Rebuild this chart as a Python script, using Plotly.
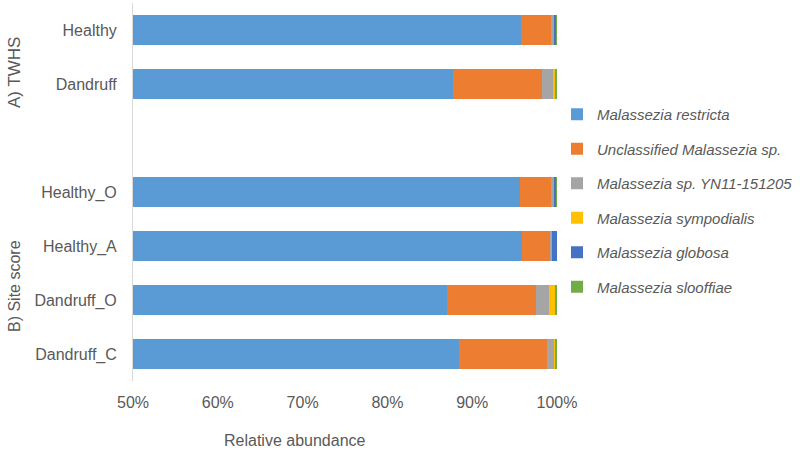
import plotly.graph_objects as go

categories = ["Healthy", "Dandruff", " ", "Healthy_O", "Healthy_A", "Dandruff_O", "Dandruff_C"]
species = ["Malassezia restricta", "Unclassified Malassezia sp.", "Malassezia sp. YN11-151205",
           "Malassezia sympodialis", "Malassezia globosa", "Malassezia slooffiae"]
colors = ["#5B9BD5", "#ED7D31", "#A5A5A5", "#FFC000", "#4472C4", "#70AD47"]

restricta    = [0.958, 0.877, None, 0.956, 0.959, 0.870, 0.884]
unclassified = [0.036, 0.105, None, 0.038, 0.033, 0.105, 0.104]
yn11         = [0.002, 0.013, None, 0.002, 0.002, 0.016, 0.009]
sympodialis  = [0.000, 0.003, None, 0.000, 0.000, 0.007, 0.001]
globosa      = [0.003, 0.000, None, 0.003, 0.006, 0.000, 0.000]
slooffiae    = [0.001, 0.002, None, 0.001, 0.000, 0.002, 0.002]
series = [restricta, unclassified, yn11, sympodialis, globosa, slooffiae]

tick_vals = [0.5, 0.6, 0.7, 0.8, 0.9, 1.0]
tick_text = ["50%", "60%", "70%", "80%", "90%", "100%"]

fig = go.Figure()
for name, vals, col in zip(species, series, colors):
    fig.add_trace(go.Bar(
        y=categories, x=vals, name=name, orientation="h",
        marker=dict(color=col, line=dict(width=0)),
        legendgroup=name,
    ))

font_col = "#595959"
fam = "Liberation Sans, Arial, sans-serif"
fig.update_layout(
    width=800, height=457,
    barmode="stack", bargap=0.44,
    plot_bgcolor="white", paper_bgcolor="white",
    margin=dict(l=133, r=243, t=3, b=76),
    font=dict(family=fam, size=16, color=font_col),
    xaxis=dict(range=[0.5, 1.0], tickvals=tick_vals, ticktext=tick_text,
               showgrid=False, zeroline=False, showline=False,
               tickfont=dict(size=16, color=font_col), ticks="",
               ticklabelstandoff=10, automargin=False),
    yaxis=dict(categoryorder="array", categoryarray=categories, autorange="reversed",
               showgrid=False, zeroline=False, showline=True, linecolor="#D9D9D9",
               linewidth=1, ticks="", tickfont=dict(size=16, color=font_col),
               ticklabelstandoff=12, automargin=False),
    legend=dict(xref="container", yref="container", x=557 / 800, y=1 - 98 / 457,
                xanchor="left", yanchor="top",
                traceorder="grouped", tracegroupgap=12,
                font=dict(size=15, color=font_col, family=fam, style="italic"),
                itemwidth=30),
    showlegend=True,
)

fig.add_annotation(text="Relative abundance", xref="paper", yref="paper",
                   x=(295 - 133) / 424, y=-(440 - 381) / 378, showarrow=False,
                   font=dict(size=16, color=font_col), xanchor="center", yanchor="middle")
fig.add_annotation(text="A) TWHS", xref="paper", yref="paper",
                   x=(14 - 133) / 424, y=1 - (72 - 3) / 378, textangle=-90, showarrow=False,
                   font=dict(size=17, color=font_col), xanchor="center", yanchor="middle")
fig.add_annotation(text="B) Site score", xref="paper", yref="paper",
                   x=(14 - 133) / 424, y=1 - (286 - 3) / 378, textangle=-90, showarrow=False,
                   font=dict(size=16, color=font_col), xanchor="center", yanchor="middle")

fig.write_html("out.html", config={"displayModeBar": False},
               post_script="document.body.style.margin='0';")
